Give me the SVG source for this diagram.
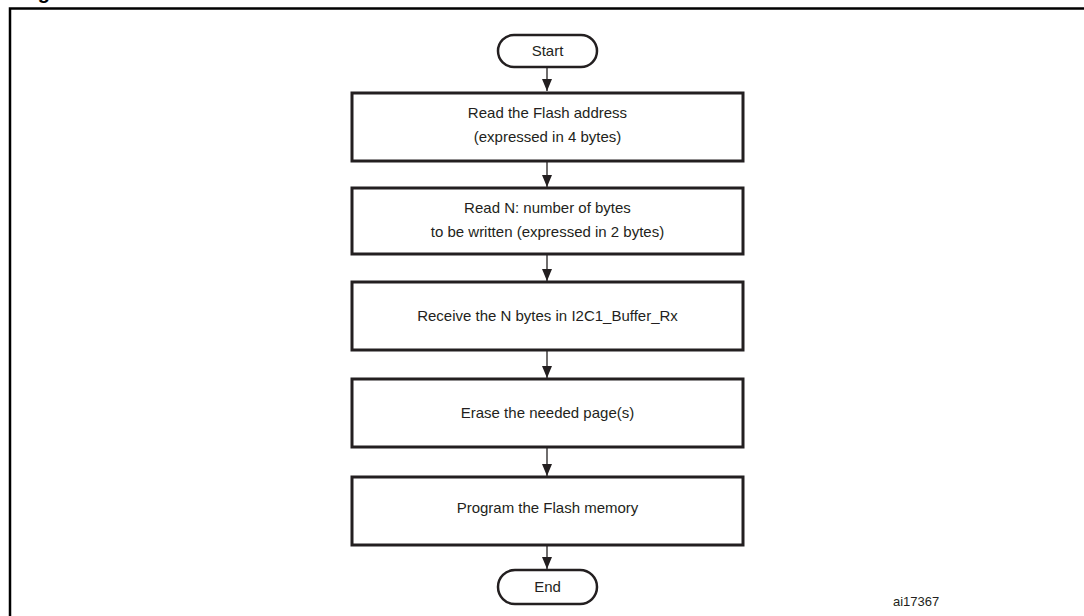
<svg xmlns="http://www.w3.org/2000/svg" width="1084" height="616" viewBox="0 0 1084 616">
<defs>
<style>
.box{fill:#fff;stroke:#231f20;stroke-width:3}
.term{fill:#fff;stroke:#231f20;stroke-width:2.5}
.t{font-family:"Liberation Sans",Arial,sans-serif;font-size:15px;fill:#231f20;text-anchor:middle}
.conn{stroke:#231f20;stroke-width:1.3;fill:none}
</style>
<marker id="arr" markerWidth="12" markerHeight="10" refX="12" refY="5" orient="auto" markerUnits="userSpaceOnUse">
<path d="M0,0 L12,5 L0,10 Z" fill="#231f20"/>
</marker>
</defs>
<rect width="1084" height="616" fill="#fff"/>
<text x="20" y="-0.8" style="font-family:'Liberation Sans',Arial,sans-serif;font-size:20px;font-weight:bold;fill:#000">Figure</text>
<path d="M10,640 L10,8.5 L1100,8.5" fill="none" stroke="#000" stroke-width="2.5"/>
<g id="connectors">
<line class="conn" x1="547" y1="67" x2="547" y2="91" marker-end="url(#arr)"/>
<line class="conn" x1="547" y1="161" x2="547" y2="187" marker-end="url(#arr)"/>
<line class="conn" x1="547" y1="255" x2="547" y2="281" marker-end="url(#arr)"/>
<line class="conn" x1="547" y1="351" x2="547" y2="378" marker-end="url(#arr)"/>
<line class="conn" x1="547" y1="448" x2="547" y2="476" marker-end="url(#arr)"/>
<line class="conn" x1="547" y1="546" x2="547" y2="569" marker-end="url(#arr)"/>
</g>
<g id="start"><rect class="term" x="498" y="35" width="99" height="32" rx="16"/><text class="t" x="547.5" y="56">Start</text></g>
<g id="n1"><rect class="box" x="352" y="93" width="391" height="68"/><text class="t" x="547.5" y="118">Read the Flash address</text><text class="t" x="547.5" y="142">(expressed in 4 bytes)</text></g>
<g id="n2"><rect class="box" x="352" y="188" width="391" height="66"/><text class="t" x="547.5" y="213">Read N: number of bytes</text><text class="t" x="547.5" y="237">to be written (expressed in 2 bytes)</text></g>
<g id="n3"><rect class="box" x="352" y="282" width="391" height="68"/><text class="t" x="547.5" y="321">Receive the N bytes in I2C1_Buffer_Rx</text></g>
<g id="n4"><rect class="box" x="352" y="379" width="391" height="68"/><text class="t" x="547.5" y="418">Erase the needed page(s)</text></g>
<g id="n5"><rect class="box" x="352" y="477" width="391" height="68"/><text class="t" x="547.5" y="513">Program the Flash memory</text></g>
<g id="end"><rect class="term" x="498" y="570" width="99" height="34" rx="17"/><text class="t" x="547.5" y="592">End</text></g>
<text x="893" y="606" style="font-family:'Liberation Sans',Arial,sans-serif;font-size:13px;fill:#231f20">ai17367</text>
</svg>
